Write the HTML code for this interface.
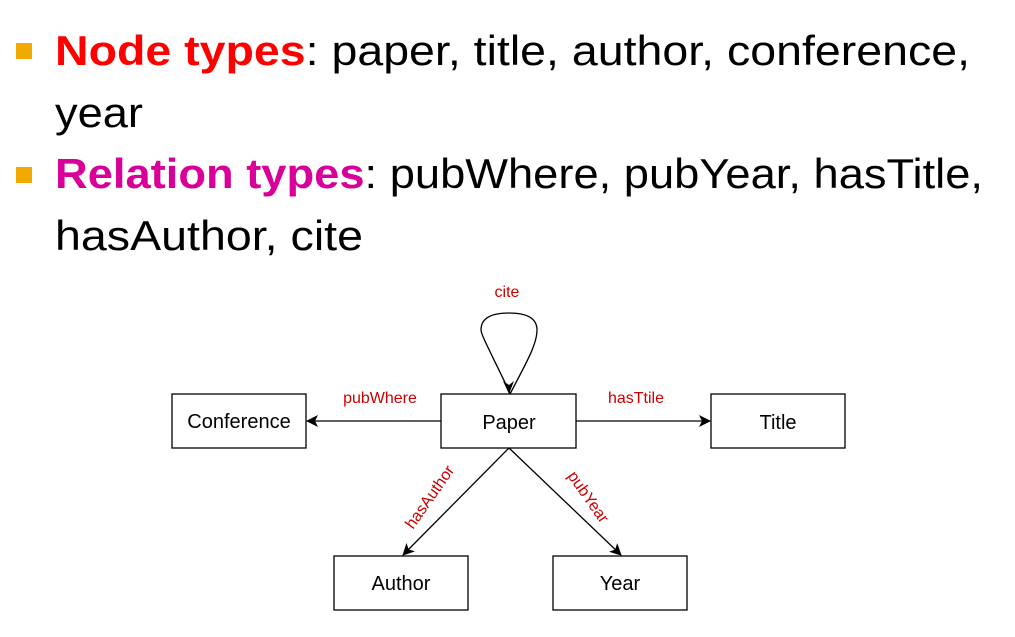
<!DOCTYPE html>
<html><head><meta charset="utf-8"><style>
html,body{margin:0;padding:0;background:#fff;}
svg{display:block;}
</style></head><body>
<svg width="1015" height="637" viewBox="0 0 1015 637" xmlns="http://www.w3.org/2000/svg">
<defs>
<marker id="ah" markerWidth="12" markerHeight="12" refX="11" refY="6" orient="auto" markerUnits="userSpaceOnUse">
<path d="M0,0 L12,6 L0,12 L3,6 Z" fill="#000"/>
</marker>
</defs>
<rect x="16" y="43" width="16" height="16" fill="#f0aa00"/>
<rect x="16" y="167" width="16" height="16" fill="#f0aa00"/>
<g font-family="Liberation Sans, sans-serif" font-size="42">
<text x="55" y="65" textLength="915" lengthAdjust="spacingAndGlyphs"><tspan fill="#ff0000" font-weight="bold">Node types</tspan><tspan fill="#000">: paper, title, author, conference,</tspan></text>
<text x="55" y="127" textLength="88" lengthAdjust="spacingAndGlyphs" fill="#000">year</text>
<text x="55" y="188" textLength="928" lengthAdjust="spacingAndGlyphs"><tspan fill="#d9009a" font-weight="bold">Relation types</tspan><tspan fill="#000">: pubWhere, pubYear, hasTitle,</tspan></text>
<text x="55" y="250" textLength="308" lengthAdjust="spacingAndGlyphs" fill="#000">hasAuthor, cite</text>
</g>
<g fill="#fff" stroke="#000" stroke-width="1.3">
<rect x="172" y="394" width="134" height="54"/>
<rect x="441" y="394" width="135" height="54"/>
<rect x="711" y="394" width="134" height="54"/>
<rect x="334" y="556" width="134" height="54"/>
<rect x="553" y="556" width="134" height="54"/>
</g>
<g font-family="Liberation Sans, sans-serif" font-size="20" text-anchor="middle" fill="#000">
<text x="239" y="428">Conference</text>
<text x="509" y="429">Paper</text>
<text x="778" y="429">Title</text>
<text x="401" y="590">Author</text>
<text x="620" y="590">Year</text>
</g>
<g stroke="#000" stroke-width="1.3" fill="none">
<line x1="441" y1="421" x2="307" y2="421" marker-end="url(#ah)"/>
<line x1="576" y1="421" x2="710" y2="421" marker-end="url(#ah)"/>
<line x1="509" y1="448" x2="403" y2="555" marker-end="url(#ah)"/>
<line x1="509" y1="448" x2="621" y2="555" marker-end="url(#ah)"/>
<path d="M510,393 C492,355 481,335 481,330 C481,318 492,313 509,313 C526,313 537,318 537,330 C537,345 525,365 510,394"/>
</g>
<path d="M503,381 L509,394 L514,381 L509,385 Z" fill="#000"/>
<g font-family="Liberation Sans, sans-serif" font-size="16" fill="#cc0000" text-anchor="middle">
<text x="507" y="297">cite</text>
<text x="380" y="403">pubWhere</text>
<text x="636" y="403">hasTtile</text>
<text transform="translate(434,500) rotate(-55)">hasAuthor</text>
<text transform="translate(584,500) rotate(55)">pubYear</text>
</g>
</svg>
</body></html>
